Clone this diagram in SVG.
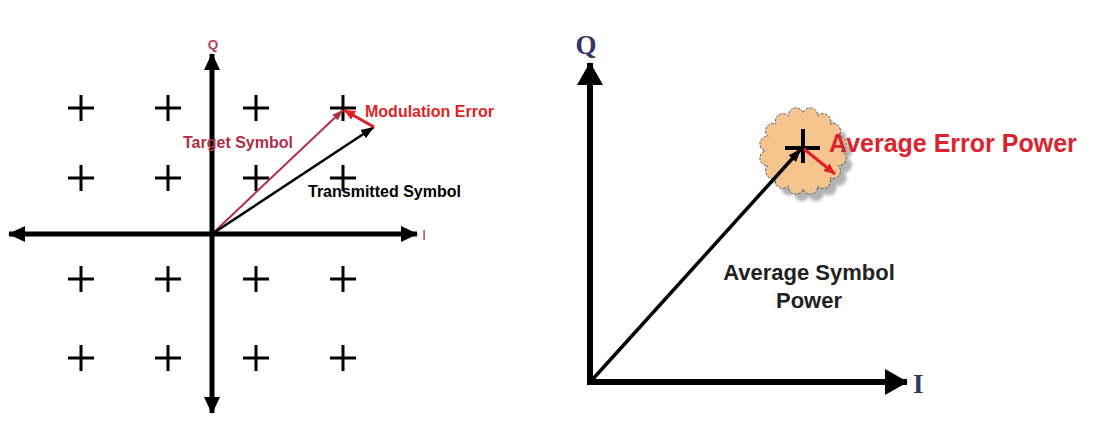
<svg xmlns="http://www.w3.org/2000/svg" width="1095" height="423" viewBox="0 0 1095 423">
<style>
.ax{stroke:#000;fill:none}
.cr{stroke:#000;stroke-width:3;fill:none}
.lbl{font-family:"Liberation Sans",Arial,sans-serif;font-weight:bold}
.ser{font-family:"Liberation Serif","Times New Roman",serif;font-weight:bold;fill:#343466}
</style>
<defs>
<marker id="ha" markerUnits="userSpaceOnUse" markerWidth="18" markerHeight="18" viewBox="0 0 18 18" refX="16" refY="9" orient="auto-start-reverse"><path d="M0,1 L17,9 L0,17 Z" fill="#000"/></marker>
<marker id="hb" markerUnits="userSpaceOnUse" markerWidth="24" markerHeight="28" viewBox="0 0 24 28" refX="22" refY="14" orient="auto"><path d="M0,1 L23,14 L0,27 Z" fill="#000"/></marker>
<marker id="hk" markerUnits="userSpaceOnUse" markerWidth="14" markerHeight="12" viewBox="0 0 14 12" refX="13" refY="6" orient="auto"><path d="M0,1 L13,6 L0,11 Z" fill="#000"/></marker>
<marker id="hm" markerUnits="userSpaceOnUse" markerWidth="12" markerHeight="10" viewBox="0 0 12 10" refX="11" refY="5" orient="auto"><path d="M0,1 L11,5 L0,9 Z" fill="#b0304a"/></marker>
<marker id="hr" markerUnits="userSpaceOnUse" markerWidth="12" markerHeight="12" viewBox="0 0 12 12" refX="11" refY="6" orient="auto"><path d="M0,1 L11,6 L0,11 Z" fill="#e21f26"/></marker>
<filter id="blur" x="-20%" y="-20%" width="140%" height="140%"><feGaussianBlur stdDeviation="1.5"/></filter>
<path id="cloud" d="M841,151 A7.5,7.5 0 0 1 838.1,165.6 A7.5,7.5 0 0 1 829.9,177.9 A7.5,7.5 0 0 1 817.6,186.1 A7.5,7.5 0 0 1 803,189 A7.5,7.5 0 0 1 788.4,186.1 A7.5,7.5 0 0 1 776.1,177.9 A7.5,7.5 0 0 1 767.9,165.6 A7.5,7.5 0 0 1 765,151 A7.5,7.5 0 0 1 767.9,136.4 A7.5,7.5 0 0 1 776.1,124.1 A7.5,7.5 0 0 1 788.4,115.9 A7.5,7.5 0 0 1 803,113 A7.5,7.5 0 0 1 817.6,115.9 A7.5,7.5 0 0 1 829.9,124.1 A7.5,7.5 0 0 1 838.1,136.4 A7.5,7.5 0 0 1 841,151 Z"/>
</defs>
<rect width="1095" height="423" fill="#fff"/>

<g id="left-axes">
<line class="ax" x1="9" y1="234" x2="417" y2="234" stroke-width="5" marker-start="url(#ha)" marker-end="url(#ha)"/>
<line class="ax" x1="212" y1="413" x2="212" y2="54" stroke-width="5" marker-start="url(#ha)" marker-end="url(#ha)"/>
<text class="lbl" x="213" y="49" font-size="13.5" fill="#b0405a" text-anchor="middle">Q</text>
<text x="422" y="240" font-size="15" font-family="Liberation Sans,Arial,sans-serif" fill="#a04868">I</text>
</g>

<g id="constellation">
<path class="cr" d="M68,108h26M81,95v26 M155,108h26M168,95v26 M243,108h26M256,95v26 M330,108h26M343,95v26"/>
<path class="cr" d="M68,178h26M81,165v26 M155,178h26M168,165v26 M243,178h26M256,165v26 M330,178h26M343,165v26"/>
<path class="cr" d="M68,279h26M81,266v26 M155,279h26M168,266v26 M243,279h26M256,266v26 M330,279h26M343,266v26"/>
<path class="cr" d="M68,358h26M81,345v26 M155,358h26M168,345v26 M243,358h26M256,345v26 M330,358h26M343,345v26"/>
</g>

<g id="vectors-left">
<line x1="212" y1="234" x2="343" y2="110" stroke="#b0304a" stroke-width="2" marker-end="url(#hm)"/>
<line x1="212" y1="234" x2="374" y2="127" stroke="#000" stroke-width="2.5" marker-end="url(#hk)"/>
<line x1="374" y1="127" x2="344" y2="110" stroke="#e21f26" stroke-width="3" marker-end="url(#hr)"/>
</g>

<g id="labels-left">
<text class="lbl" x="365" y="117" font-size="16" fill="#e21f26">Modulation Error</text>
<text class="lbl" x="183" y="148" font-size="16" fill="#b0304a">Target Symbol</text>
<text class="lbl" x="308" y="197" font-size="16" fill="#000">Transmitted Symbol</text>
</g>

<g id="right-axes">
<line class="ax" x1="590" y1="385" x2="590" y2="63" stroke-width="6" marker-end="url(#hb)"/>
<line class="ax" x1="587" y1="382" x2="907" y2="382" stroke-width="6" marker-end="url(#hb)"/>
<text class="ser" x="586" y="54" font-size="27" text-anchor="middle">Q</text>
<text class="ser" x="913" y="393" font-size="27">I</text>
</g>

<g id="error-cloud">
<use href="#cloud" transform="translate(6,7)" fill="#9a9a9a" opacity="0.75" filter="url(#blur)"/>
<use href="#cloud" fill="#f6c48e" stroke="#555" stroke-width="1" stroke-dasharray="2.5 1.5"/>
</g>

<g id="vectors-right">
<line x1="592" y1="380" x2="801" y2="149" stroke="#000" stroke-width="3.5" marker-end="url(#hk)"/>
<path d="M785,148h35M803,129v34" stroke="#000" stroke-width="4" fill="none"/>
<line x1="804" y1="149" x2="835" y2="174" stroke="#e21f26" stroke-width="3" marker-end="url(#hr)"/>
</g>

<g id="labels-right">
<text class="lbl" x="829" y="152" font-size="25" fill="#dc2430">Average Error Power</text>
<text class="lbl" x="809" y="280" font-size="22" fill="#222" text-anchor="middle">Average Symbol</text>
<text class="lbl" x="809" y="308" font-size="22" fill="#222" text-anchor="middle">Power</text>
</g>
</svg>
